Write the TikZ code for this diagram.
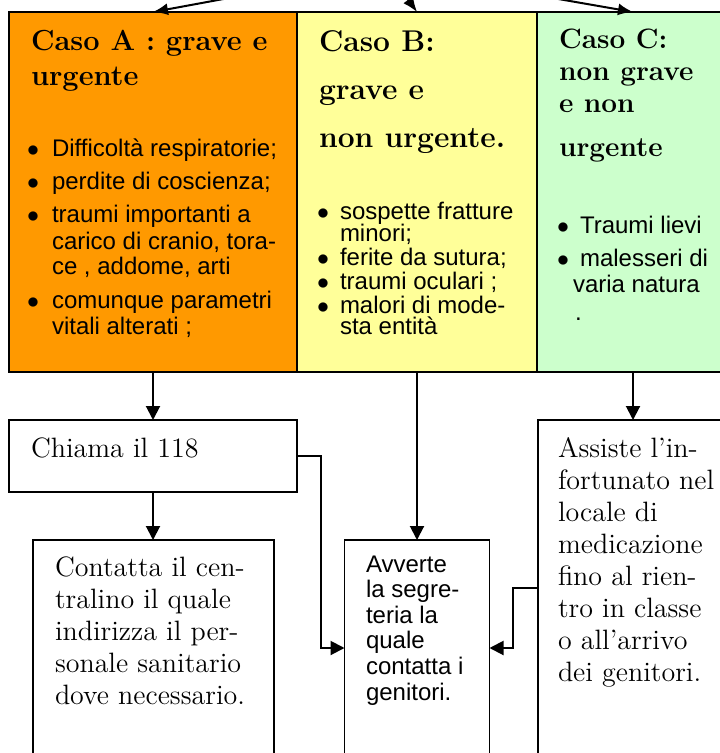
\documentclass[tikz,border=0pt]{standalone}
\usepackage{fontspec}
\newfontfamily\arialfont{Liberation Sans}
\usetikzlibrary{arrows.meta, positioning}

\definecolor{caseA}{HTML}{FF9900}
\definecolor{caseB}{HTML}{FFFF99}
\definecolor{caseC}{HTML}{CCFFCC}
\newcommand\fixskip{\lineskiplimit=-20pt\relax}
\newcommand\firstline{\rule{0pt}{12pt}}
\newcommand\itembul[1][12.5pt]{\makebox[#1][l]{$\bullet$}}
\newcommand\itemgap[1][12.5pt]{\hspace*{#1}}

\begin{document}
\begin{tikzpicture}[x=0.5pt,y=-0.5pt,>={Latex[length=7.5pt,width=6pt]},
      every node/.style={inner sep=0pt,outer sep=0pt},
      casebox/.style={draw,line width=0.8pt,anchor=north west,minimum height=180pt},
      actbox/.style={draw,line width=0.8pt,anchor=north west,fill=white},
      flow/.style={line width=1pt,-{Triangle[length=7pt,width=7pt]}},
      headtxt/.style 2 args={anchor=north west,align=left,font=\fontsize{#1}{#2}\selectfont\bfseries\fixskip},
      listtxt/.style={anchor=north west,align=left,font=\arialfont\fontsize{12}{#1}\selectfont\fixskip},
      listtxt/.default=13,
      bodytxt/.style={anchor=north west,align=left,font=\fontsize{14}{16}\selectfont\fixskip}]
      \useasboundingbox (0,0) rectangle (719,753);
      % the three cases
      \node[casebox, fill=caseA, minimum width=144pt] (caseA) at (9,12) {};
      \node[casebox, fill=caseB, minimum width=120pt] (caseB) at (297,12) {};
      \node[casebox, fill=caseC, minimum width=96pt]  (caseC) at (537,12) {};
      \node[headtxt={14.5}{17.5}] (headA) at (31,27)  {\firstline Caso A : grave e\\urgente};
      \node[headtxt={15}{24}]     (headB) at (319,28) {\firstline Caso B:\\grave e\\non urgente.};
      \node[headtxt={14}{16}]     (headC) at (559,25) {\firstline Caso C:\\non grave\\e non\\[6pt]urgente};
      \node[listtxt] (listA) at (27,133) {\firstline\itembul Difficoltà respiratorie;\\[3.5pt]
        \itembul perdite di coscienza;\\[3.5pt]
        \itembul traumi importanti a\\\itemgap carico di cranio, tora-\\\itemgap ce , addome, arti\\[3.5pt]
        \itembul comunque parametri\\\itemgap vitali alterati ;};
      \node[listtxt=10.5] (listB) at (317,196) {\firstline\itembul[11.5pt]sospette fratture\\\itemgap[11.5pt]minori;\\[1.5pt]
        \itembul[11.5pt]ferite da sutura;\\[1.5pt]
        \itembul[11.5pt]traumi oculari ;\\[1.5pt]
        \itembul[11.5pt]malori di mode-\\\itemgap[11.5pt]sta entità};
      \node[listtxt] (listC) at (557,209) {\firstline\itembul[11.5pt]Traumi lievi\\[4pt]
        \itembul[11.5pt]malesseri di\\\itemgap[8pt]varia natura\\[0.5pt]\itemgap[9pt].};
      % what happens next
      \node[actbox, minimum width=144pt, minimum height=36pt]   (call)       at (9,420) {};
      \node[actbox, minimum width=120.5pt, minimum height=108pt] (centralino) at (33,540) {};
      \node[actbox, minimum width=72.5pt, minimum height=108pt]  (segreteria) at (344.5,540) {};
      \node[actbox, minimum width=95pt, minimum height=168pt]    (assiste)    at (538,420) {};
      \node[bodytxt] (callText) at (31,433) {\firstline Chiama il 118};
      \node[bodytxt] (centralinoText) at (55,552) {\firstline Contatta il cen-\\tralino il quale\\indirizza il per-\\sonale sanitario\\dove necessario.};
      \node[listtxt=12.8] (segreteriaText) at (366,548) {\firstline Avverte\\la segre-\\teria la\\quale\\contatta i\\genitori.};
      \node[bodytxt] (assisteText) at (558,433) {\firstline Assiste l'in-\\fortunato nel\\locale di\\medicazione\\fino al rien-\\tro in classe\\o all'arrivo\\dei genitori.};
      % connectors
      \coordinate (origin) at (386,-31);
      \path[->, line width=1pt]
      (origin) edge (caseA.north) edge (caseB.north) edge (caseC.north);
      \path[flow]
      (caseA.south) edge (call.north)
      (call.south) edge (call.south |- centralino.north)
      (caseB.south) edge (segreteria.north)
      (caseC.south) edge (assiste.north);
      \draw[flow] (call.east) -- ++(24,0) |- (segreteria.west);
      \draw[flow] (assiste.west) -- ++(-25,0) |- (segreteria.east);
    \end{tikzpicture}
\end{document}
